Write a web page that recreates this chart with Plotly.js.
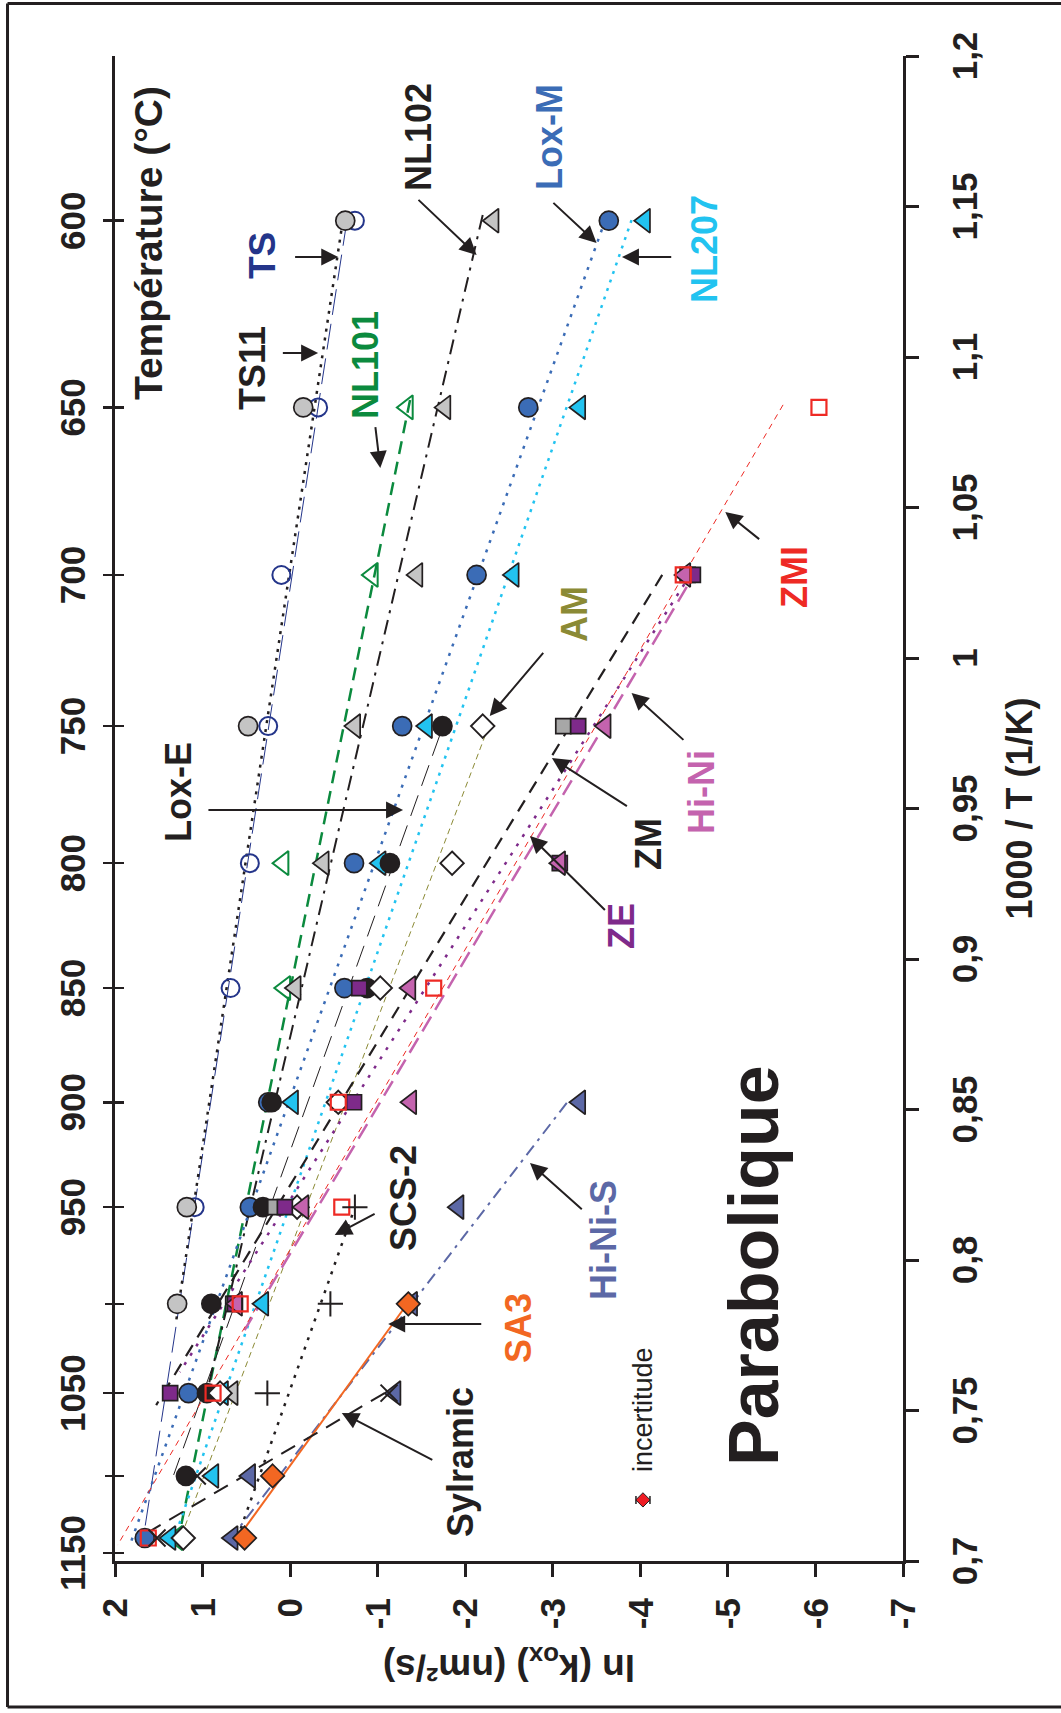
<!DOCTYPE html>
<html>
<head>
<meta charset="utf-8">
<script src="https://cdn.plot.ly/plotly-3.0.1.min.js"></script>
<style>
  html, body { margin: 0; padding: 0; background: #ffffff; }
  body { width: 1061px; height: 1713px; overflow: hidden; position: relative; }
  #chart { position: absolute; left: 0; top: 0; width: 1713px; height: 1061px;
           transform-origin: 0 0; transform: translate(0px, 1713px) rotate(-90deg); }
</style>
</head>
<body>
<div id="chart"></div>
<script>
// ---------------- DATA (temperature in °C, ln(kox) in nm²/s) ----------------
const tempTicks     = [600, 650, 700, 750, 800, 850, 900, 950, 1000, 1050, 1100, 1150];
const tempLabelled  = [600, 650, 700, 750, 800, 850, 900, 950, 1050, 1150];
const tempLabels    = ["600", "650", "700", "750", "800", "850", "900", "950", "1050", "1150"];
const invTTicks  = [0.7, 0.75, 0.8, 0.85, 0.9, 0.95, 1, 1.05, 1.1, 1.15, 1.2];
const invTLabels = ["0,7", "0,75", "0,8", "0,85", "0,9", "0,95", "1", "1,05", "1,1", "1,15", "1,2"];
const lnTicks    = [2, 1, 0, -1, -2, -3, -4, -5, -6, -7];
const lnLabels   = ["2", "1", "0", "-1", "-2", "-3", "-4", "-5", "-6", "-7"];

const tsT   = [600, 650, 700, 750, 800, 850, 950];
const tsLn  = [-0.74, -0.32, 0.10, 0.25, 0.46, 0.68, 1.09];
const ts11T  = [600, 650, 750, 950, 1000];
const ts11Ln = [-0.63, -0.15, 0.48, 1.18, 1.29];
const nl101T  = [650, 700, 800, 850, 1140];
const nl101Ln = [-1.34, -0.94, 0.08, 0.06, 1.29];
const nl102T  = [600, 650, 700, 750, 800, 850, 1050];
const nl102Ln = [-2.32, -1.77, -1.45, -0.74, -0.38, -0.06, 0.66];
const loxMT  = [600, 650, 700, 750, 800, 850, 900, 950, 1050, 1140];
const loxMLn = [-3.64, -2.72, -2.13, -1.28, -0.73, -0.62, 0.25, 0.46, 1.16, 1.66];
const nl207T  = [600, 650, 700, 750, 800, 900, 1000, 1050, 1100, 1140];
const nl207Ln = [-4.05, -3.31, -2.55, -1.56, -1.03, -0.03, 0.31, 0.77, 0.88, 1.37];
const loxET  = [750, 800, 850, 900, 950, 1000, 1050, 1100];
const loxELn = [-1.74, -1.14, -0.88, 0.21, 0.31, 0.90, 0.95, 1.19];
const amT  = [750, 800, 850, 900, 950, 1050, 1140];
const amLn = [-2.20, -1.85, -1.03, -0.55, -0.08, 0.80, 1.22];
const zmT  = [700, 750, 950, 1000];
const zmLn = [-4.54, -3.12, 0.17, 0.65];
const zeT  = [700, 750, 800, 850, 900, 950, 1000, 1050];
const zeLn = [-4.60, -3.29, -3.08, -0.79, -0.73, 0.06, 0.63, 1.37];
const hiNiT  = [700, 750, 800, 850, 900, 950, 1000];
const hiNiLn = [-4.51, -3.60, -3.08, -1.37, -1.38, -0.15, 0.61];
const zmiT  = [650, 700, 850, 900, 950, 1000, 1050, 1140];
const zmiLn = [-6.04, -4.49, -1.64, -0.55, -0.59, 0.57, 0.88, 1.62];
const scsT  = [950, 1000, 1050];
const scsLn = [-0.74, -0.46, 0.26];
const hiNiST  = [900, 950, 1000, 1050, 1100, 1140];
const hiNiSLn = [-3.31, -1.92, -1.39, -1.20, 0.46, 0.66];
const sa3T  = [1000, 1100, 1140];
const sa3Ln = [-1.35, 0.20, 0.52];
const sylT  = [1050, 1100, 1140];
const sylLn = [-1.13, 1.06, 1.52];

// fitted lines: [1000/T] and [ln kox] end points
const tsFitX = [1.1455, 0.707],   tsFitLn = [-0.65, 1.68];
const ts11FitX = [1.1449, 0.780], ts11FitLn = [-0.60, 1.30];
const nl101FitX = [1.0857, 0.7053], nl101FitLn = [-1.37, 1.29];
const nl102FitX = [1.1472, 0.7535], nl102FitLn = [-2.20, 0.97];
const loxMFitX = [1.1455, 0.7053], loxMFitLn = [-3.60, 1.83];
const nl207FitX = [1.1455, 0.7053], nl207FitLn = [-3.90, 1.35];
const loxEFitX = [0.9744, 0.7286], loxEFitLn = [-1.71, 1.33];
const amFitX = [0.9744, 0.707], amFitLn = [-2.23, 1.26];
const zmFitX = [1.0276, 0.7518], zmFitLn = [-4.25, 1.53];
const zeFitX = [1.0276, 0.7628], zeFitLn = [-4.57, 1.26];
const hiNiFitX = [1.0236, 0.7767], hiNiFitLn = [-4.53, 0.52];
const zmiFitX = [1.0841, 0.7053], zmiFitLn = [-5.63, 1.97];
const scsFitX = [0.815, 0.707], scsFitLn = [-0.71, 0.61];
const hiNiSFitX = [0.8522, 0.707], hiNiSFitLn = [-3.16, 0.69];
const sa3FitX = [0.7867, 0.7076], sa3FitLn = [-1.37, 0.60];
const sylFitX = [0.7558, 0.707], sylFitLn = [-1.08, 1.77];

const incX = [0.7203], incLn = [-4.03], incErr = [0.08];

// ---------------- helpers ----------------
const invT = T => 1000 / (T + 273.15);
const BLK = '#231f20';
const FONT = 'Liberation Sans, Arial, Helvetica, sans-serif';

function fit(x, y, color, width, dash) {
  return { x: x, y: y, mode: 'lines', type: 'scatter', hoverinfo: 'skip',
           line: { color: color, width: width, dash: dash } };
}
function pts(T, ln, symbol, fill, size, lineColor, lineWidth) {
  return { x: T.map(invT), y: ln, mode: 'markers', type: 'scatter', hoverinfo: 'skip',
           marker: { symbol: symbol, color: fill, size: size,
                     line: { color: lineColor, width: lineWidth } } };
}

const C = {
  navy: '#24358a', green: '#0b8a3e', blue: '#3b6cb6', cyan: '#22c3f0',
  olive: '#8b8a35', purple: '#7e2a8a', pink: '#c463ae', red: '#ee2a24',
  slate: '#5c68a6', orange: '#f26722', gray: '#c4c4c4', gray2: '#a7a7a7'
};

const traces = [
  fit(tsFitX, tsFitLn, C.navy, 1, '26px,9px'),
  fit(ts11FitX, ts11FitLn, BLK, 2.5, '3px,6px'),
  fit(nl101FitX, nl101FitLn, C.green, 2.5, '13px,8px'),
  fit(nl102FitX, nl102FitLn, BLK, 2, '15px,7px,3px,7px'),
  fit(loxMFitX, loxMFitLn, C.blue, 2.5, '3px,7px'),
  fit(nl207FitX, nl207FitLn, C.cyan, 2.5, '3px,6px'),
  fit(loxEFitX, loxEFitLn, BLK, 1, '22px,10px'),
  fit(amFitX, amFitLn, C.olive, 1, '6px,4px'),
  fit(zmFitX, zmFitLn, BLK, 2.2, '13px,9px'),
  fit(zeFitX, zeFitLn, C.purple, 2.5, '3px,8px'),
  fit(hiNiFitX, hiNiFitLn, C.pink, 2.5, '17px,8px'),
  fit(zmiFitX, zmiFitLn, C.red, 1, '6px,5px'),
  fit(scsFitX, scsFitLn, BLK, 2.5, '3px,7px'),
  fit(hiNiSFitX, hiNiSFitLn, C.slate, 2, '12px,6px,3px,6px'),
  fit(sa3FitX, sa3FitLn, C.orange, 2, 'solid'),
  fit(sylFitX, sylFitLn, BLK, 2, '16px,10px'),

  pts(tsT, tsLn, 'circle-open', C.navy, 18, C.navy, 2),
  pts(ts11T, ts11Ln, 'circle', C.gray, 19, BLK, 1.7),
  pts(nl101T, nl101Ln, 'triangle-up-open', C.green, 21, C.green, 2),
  pts(nl102T, nl102Ln, 'triangle-up', C.gray, 21, BLK, 1.7),
  pts(loxMT, loxMLn, 'circle', C.blue, 19, BLK, 1.7),
  pts(nl207T, nl207Ln, 'triangle-up', C.cyan, 21, BLK, 1.7),
  pts(loxET, loxELn, 'circle', BLK, 19, BLK, 1.7),
  pts(amT, amLn, 'diamond', '#ffffff', 18, BLK, 1.9),
  pts(zmT, zmLn, 'square', C.gray2, 15, BLK, 1.7),
  pts(zeT, zeLn, 'square', C.purple, 15, BLK, 1.7),
  pts(hiNiT, hiNiLn, 'triangle-up', C.pink, 21, BLK, 1.7),
  pts(zmiT, zmiLn, 'square-open', C.red, 15, C.red, 2.2),
  pts(scsT, scsLn, 'cross-thin-open', BLK, 18, BLK, 2),
  pts(hiNiST, hiNiSLn, 'triangle-up', C.slate, 21, BLK, 1.7),
  pts(sa3T, sa3Ln, 'diamond', C.orange, 18, BLK, 1.7),
  pts(sylT, sylLn, 'x-thin-open', BLK, 17, BLK, 2),

  { x: incX, y: incLn, mode: 'markers', type: 'scatter', hoverinfo: 'skip',
    marker: { symbol: 'diamond', color: '#ee1c24', size: 11, line: { color: BLK, width: 1 } },
    error_y: { type: 'data', array: incErr, visible: true, color: BLK, thickness: 1.5, width: 4 } },

  // invisible helpers so the temperature axes are drawn
  { x: [0.7], y: [2], xaxis: 'x2', mode: 'markers', marker: { opacity: 0 }, hoverinfo: 'skip' },
  { x: [0.7], y: [2], xaxis: 'x3', mode: 'markers', marker: { opacity: 0 }, hoverinfo: 'skip' },
  { x: [0.7], y: [2], xaxis: 'x4', mode: 'markers', marker: { opacity: 0 }, hoverinfo: 'skip' }
];

// ---------------- labels & arrows ----------------
const lab = (text, x, y, color, size, weight) => ({
  text: text, x: x, y: y, xref: 'x', yref: 'y', showarrow: false,
  xanchor: 'center', yanchor: 'middle',
  font: { family: FONT, size: size || 36, color: color || BLK, weight: weight || 'bold' }
});
const arr = (hx, hy, tx, ty) => ({
  x: hx, y: hy, ax: tx, ay: ty, xref: 'x', yref: 'y', axref: 'x', ayref: 'y',
  text: ' ', showarrow: true, arrowhead: 2, arrowsize: 1.7, arrowwidth: 2,
  arrowcolor: BLK, standoff: 0, startstandoff: 0
});

const annotations = [
  lab('Température (°C)', 1.1379, 1.62, BLK, 39),
  lab('TS', 1.1336, 0.32, C.navy, 37),            arr(1.1332, -0.55, 1.1332, 0.04),
  lab('TS11', 1.0963, 0.43, BLK, 36),             arr(1.1013, -0.32, 1.1013, 0.18),
  lab('NL101', 1.0973, -0.86, C.green, 36),       arr(1.0631, -1.03, 1.0777, -0.97),
  lab('NL102', 1.1731, -1.47, BLK, 36),           arr(1.1339, -2.13, 1.1532, -1.43),
  lab('Lox-M', 1.1731, -2.96, C.blue, 36),        arr(1.1379, -3.50, 1.1522, -2.97),
  lab('NL207', 1.1359, -4.73, C.cyan, 36),        arr(1.1332, -3.79, 1.1332, -4.45),
  lab('AM', 1.0146, -3.25, C.olive, 36),          arr(0.9807, -2.28, 1.0027, -2.92),
  lab('ZMI', 1.0269, -5.76, C.red, 36),           arr(1.0485, -4.97, 1.0385, -5.40),
  lab('Hi-Ni', 0.9555, -4.70, C.pink, 36),        arr(0.9884, -3.90, 0.9718, -4.53),
  lab('ZM', 0.9382, -4.09, BLK, 36),              arr(0.9668, -2.99, 0.9498, -3.90),
  lab('ZE', 0.911, -3.79, C.purple, 36),          arr(0.9409, -2.74, 0.9153, -3.63),
  lab('Lox-E', 0.9555, 1.27, BLK, 36),            arr(0.9495, -1.29, 0.9495, 1.03),
  lab('SCS-2', 0.8206, -1.30, BLK, 36),           arr(0.8083, -0.51, 0.8163, -1.03),
  lab('Hi-Ni-S', 0.8066, -3.58, C.slate, 36),     arr(0.8322, -2.74, 0.8159, -3.37),
  lab('SA3', 0.7774, -2.61, C.orange, 36),        arr(0.7787, -1.12, 0.7787, -2.28),
  lab('Sylramic', 0.7329, -1.95, BLK, 36),        arr(0.7492, -0.59, 0.7326, -1.69),
  lab('Parabolique', 0.7983, -5.30, BLK, 70),
  lab('incertitude', 0.7502, -4.03, BLK, 27, 'normal')
];

// outer frame (three visible sides)
const shapes = [
  { type: 'line', xref: 'paper', yref: 'paper', x0: -0.097, x1: 1.0349, y0: 1.1364, y1: 1.1364, line: { color: BLK, width: 3 } },
  { type: 'line', xref: 'paper', yref: 'paper', x0: -0.097, x1: -0.097, y0: -0.25, y1: 1.1364, line: { color: BLK, width: 3 } },
  { type: 'line', xref: 'paper', yref: 'paper', x0: 1.0349, x1: 1.0349, y0: -0.25, y1: 1.1364, line: { color: BLK, width: 3 } }
];

const tickFont = { family: FONT, size: 35, color: BLK, weight: 'bold' };
const tempVals = tempTicks.map(invT);

const layout = {
  width: 1713, height: 1061,
  margin: { l: 152, r: 56, t: 115, b: 158, pad: 0 },
  paper_bgcolor: '#ffffff', plot_bgcolor: '#ffffff',
  showlegend: false,
  font: { family: FONT, color: BLK },
  xaxis: {
    range: [0.7, 1.2], tickmode: 'array', tickvals: invTTicks, ticktext: invTLabels,
    ticks: 'outside', ticklen: 13, tickwidth: 3, tickcolor: BLK,
    showline: true, linewidth: 3, linecolor: BLK, showgrid: false, zeroline: false,
    tickfont: tickFont, ticklabelstandoff: 16,
    title: { text: '1000 / T (1/K)', font: { family: FONT, size: 36, color: BLK, weight: 'bold' }, standoff: 24 }
  },
  // labelled temperature ticks (outside part of the cross)
  xaxis2: {
    overlaying: 'x', side: 'top', anchor: 'y', range: [0.7, 1.2],
    tickmode: 'array', tickvals: tempLabelled.map(invT), ticktext: tempLabels,
    ticks: 'outside', ticklen: 9, tickwidth: 2.5, tickcolor: BLK,
    showline: true, linewidth: 3, linecolor: BLK, showgrid: false, zeroline: false,
    tickfont: tickFont, ticklabelstandoff: 4
  },
  // inside part of the cross for every temperature tick
  xaxis3: {
    overlaying: 'x', side: 'top', anchor: 'y', range: [0.7, 1.2],
    tickmode: 'array', tickvals: tempVals,
    ticks: 'inside', ticklen: 9, tickwidth: 2.5, tickcolor: BLK,
    showline: false, showgrid: false, zeroline: false, showticklabels: false
  },
  // outside part for every temperature tick (incl. unlabelled 1000 and 1100)
  xaxis4: {
    overlaying: 'x', side: 'top', anchor: 'y', range: [0.7, 1.2],
    tickmode: 'array', tickvals: tempVals,
    ticks: 'outside', ticklen: 9, tickwidth: 2.5, tickcolor: BLK,
    showline: false, showgrid: false, zeroline: false, showticklabels: false
  },
  yaxis: {
    range: [-7, 2], tickmode: 'array', tickvals: lnTicks, ticktext: lnLabels,
    ticks: 'outside', ticklen: 13, tickwidth: 3, tickcolor: BLK,
    showline: true, linewidth: 3, linecolor: BLK, showgrid: false, zeroline: false,
    tickfont: tickFont, ticklabelstandoff: 14,
    title: { text: 'ln (k<sub>ox</sub>) (nm²/s)', font: { family: FONT, size: 37, color: BLK, weight: 'bold' }, standoff: 14 }
  },
  annotations: annotations,
  shapes: shapes
};

Plotly.newPlot('chart', traces, layout, { staticPlot: true, displayModeBar: false });
</script>
</body>
</html>
